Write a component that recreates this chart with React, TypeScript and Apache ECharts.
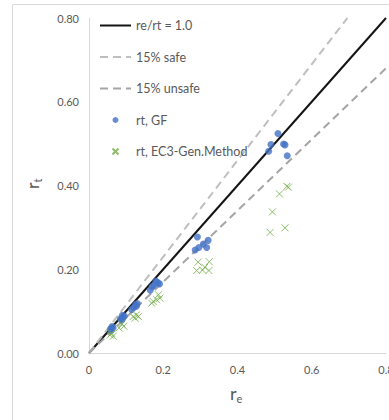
import React, { useEffect, useRef } from "react";
import * as echarts from "echarts";

const xTicks = [0, 0.2, 0.4, 0.6, 0.8];
const yTicks = [0, 0.2, 0.4, 0.6, 0.8];

const seriesNames = ["re/rt = 1.0", "15% safe", "15% unsafe", "rt, GF", "rt, EC3-Gen.Method"];

const equalLine = [[0, 0], [0.8, 0.8]];
const safeLine = [[0, 0], [0.696, 0.8]];
const unsafeLine = [[0, 0], [0.8, 0.68]];

const gfRe = [0.509, 0.49, 0.524, 0.528, 0.484, 0.534, 0.292, 0.321, 0.308, 0.296, 0.286, 0.317, 0.18, 0.19, 0.17, 0.165, 0.185, 0.175, 0.125, 0.12, 0.115, 0.13, 0.128, 0.09, 0.085, 0.095, 0.088, 0.092, 0.062, 0.058, 0.065, 0.06];
const gfRt = [0.524, 0.498, 0.499, 0.497, 0.482, 0.471, 0.277, 0.269, 0.26, 0.252, 0.246, 0.252, 0.172, 0.165, 0.158, 0.15, 0.168, 0.162, 0.115, 0.108, 0.104, 0.118, 0.112, 0.09, 0.082, 0.088, 0.078, 0.085, 0.063, 0.057, 0.06, 0.054];

const ec3Re = [0.533, 0.537, 0.513, 0.494, 0.528, 0.488, 0.294, 0.324, 0.312, 0.29, 0.306, 0.323, 0.187, 0.173, 0.191, 0.169, 0.182, 0.128, 0.119, 0.124, 0.133, 0.088, 0.094, 0.081, 0.061, 0.065, 0.057];
const ec3Rt = [0.398, 0.396, 0.38, 0.337, 0.299, 0.288, 0.217, 0.218, 0.205, 0.197, 0.198, 0.197, 0.139, 0.123, 0.131, 0.119, 0.127, 0.091, 0.087, 0.083, 0.087, 0.069, 0.064, 0.06, 0.047, 0.04, 0.043];

const FONT = "Lato, 'Open Sans', sans-serif";
const TXT = "#595959";

export default function App() {
  const ref = useRef<HTMLDivElement>(null);
  useEffect(() => {
    document.body.style.margin = "0";
    const chart = echarts.init(ref.current!, null, { renderer: "svg" });
    const gf = gfRe.map((r, i) => [r, gfRt[i]]);
    const ec3 = ec3Re.map((r, i) => [r, ec3Rt[i]]);
    chart.setOption({
      animation: false,
      backgroundColor: "#ffffff",
      textStyle: { fontFamily: FONT },
      grid: { left: 89, top: 18, right: 3, bottom: 67, containLabel: false, outerBoundsMode: "none" },
      xAxis: {
        type: "value",
        min: xTicks[0],
        max: xTicks[xTicks.length - 1],
        interval: 0.2,
        axisLine: { show: true, lineStyle: { color: "#d9d9d9", width: 1 } },
        axisTick: { show: false },
        splitLine: { show: false },
        axisLabel: {
          color: TXT,
          fontSize: 11,
          margin: 11,
          fontFamily: FONT,
          formatter: (v: number) => (v === 0 ? "0" : String(Math.round(v * 10) / 10)),
        },
      },
      yAxis: {
        type: "value",
        min: yTicks[0],
        max: yTicks[yTicks.length - 1],
        interval: 0.2,
        axisLine: { show: true, lineStyle: { color: "#d9d9d9", width: 1 } },
        axisTick: { show: false },
        splitLine: { show: false },
        axisLabel: {
          color: TXT,
          fontSize: 11,
          margin: 10,
          fontFamily: FONT,
          formatter: (v: number) => v.toFixed(2),
        },
      },
      legend: {
        orient: "vertical",
        left: 94,
        top: 14,
        itemWidth: 31,
        itemHeight: 6,
        itemGap: 18.5,
        textStyle: { color: TXT, fontSize: 12.5, fontFamily: FONT },
        data: [
          { name: seriesNames[0], itemStyle: { opacity: 0 } },
          { name: seriesNames[1], itemStyle: { opacity: 0 } },
          { name: seriesNames[2], itemStyle: { opacity: 0 } },
          { name: seriesNames[3] },
          { name: seriesNames[4] },
        ],
      },
      graphic: [
        {
          type: "rect",
          shape: { x: 12.5, y: 4.5, width: 400, height: 430 },
          style: { fill: "none", stroke: "#d9d9d9", lineWidth: 1 },
          z: -1,
          silent: true,
        },
        {
          type: "group",
          x: 230,
          y: 402,
          children: [
            { type: "text", x: 0, y: 0, style: { text: "r", fontSize: 18, fontFamily: FONT, fill: TXT, textVerticalAlign: "bottom" } },
            { type: "text", x: 6.5, y: 2, style: { text: "e", fontSize: 11, fontFamily: FONT, fill: TXT, textVerticalAlign: "bottom" } },
          ],
        },
        {
          type: "group",
          x: 41,
          y: 189,
          rotation: Math.PI / 2,
          children: [
            { type: "text", x: 0, y: 0, style: { text: "r", fontSize: 18, fontFamily: FONT, fill: TXT, textVerticalAlign: "bottom" } },
            { type: "text", x: 6.5, y: 2, style: { text: "t", fontSize: 11, fontFamily: FONT, fill: TXT, textVerticalAlign: "bottom" } },
          ],
        },
      ],
      series: [
        {
          name: seriesNames[0],
          type: "line",
          data: equalLine,
          symbol: "none",
          lineStyle: { color: "#141414", width: 2 },
          itemStyle: { color: "#141414" },
          z: 2,
        },
        {
          name: seriesNames[1],
          type: "line",
          data: safeLine,
          symbol: "none",
          lineStyle: { color: "#bfbfbf", width: 2, type: [8, 5] },
          itemStyle: { color: "#bfbfbf" },
          z: 2,
        },
        {
          name: seriesNames[2],
          type: "line",
          data: unsafeLine,
          symbol: "none",
          lineStyle: { color: "#a5a5a5", width: 2, type: [8, 5] },
          itemStyle: { color: "#a5a5a5" },
          z: 2,
        },
        {
          name: seriesNames[3],
          type: "scatter",
          data: gf,
          symbol: "circle",
          symbolSize: 7,
          itemStyle: { color: "#4472c4" },
          z: 3,
        },
        {
          name: seriesNames[4],
          type: "scatter",
          data: ec3,
          symbol: "path://M0 0L10 10M10 0L0 10",
          symbolSize: 7,
          itemStyle: { color: "#70ad47", borderColor: "#70ad47", borderWidth: 1 },
          z: 3,
        },
      ],
    });
    return () => chart.dispose();
  }, []);
  return <div ref={ref} style={{ width: 389, height: 420 }} />;
}
